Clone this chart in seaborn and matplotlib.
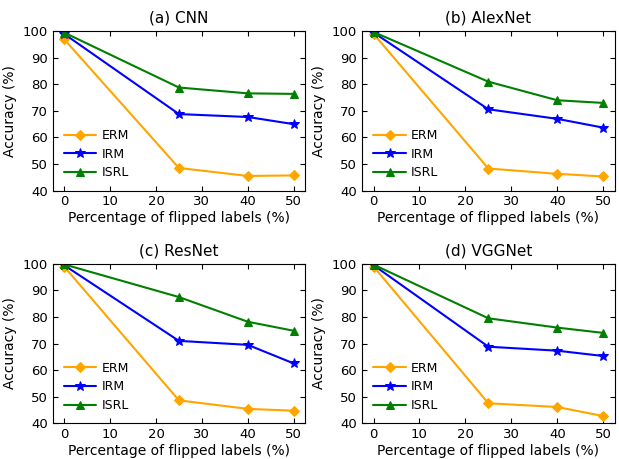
import pandas as pd
import matplotlib
matplotlib.use("Agg")
import matplotlib.pyplot as plt
import seaborn as sns

# --- data ---
flip = [0, 25, 40, 50]
methods = ["ERM", "IRM", "ISRL"]
titles = ["(a) CNN", "(b) AlexNet", "(c) ResNet", "(d) VGGNet"]

cnn_erm = [97.0, 48.5, 45.5, 45.7]
cnn_irm = [99.0, 68.8, 67.7, 65.0]
cnn_isrl = [99.5, 78.8, 76.6, 76.4]

alex_erm = [99.0, 48.3, 46.3, 45.3]
alex_irm = [99.5, 70.6, 67.0, 63.7]
alex_isrl = [99.7, 81.0, 74.0, 73.0]

res_erm = [99.0, 48.6, 45.4, 44.7]
res_irm = [99.5, 71.0, 69.5, 62.5]
res_isrl = [99.8, 87.5, 78.2, 74.8]

vgg_erm = [99.0, 47.5, 46.1, 42.7]
vgg_irm = [99.5, 68.8, 67.3, 65.3]
vgg_isrl = [99.7, 79.5, 76.0, 74.0]

panels = [
    (cnn_erm, cnn_irm, cnn_isrl),
    (alex_erm, alex_irm, alex_isrl),
    (res_erm, res_irm, res_isrl),
    (vgg_erm, vgg_irm, vgg_isrl),
]

colors = {"ERM": "orange", "IRM": "blue", "ISRL": "green"}
markers = {"ERM": "D", "IRM": "*", "ISRL": "^"}
sizes = {"ERM": 5, "IRM": 7, "ISRL": 6}

sns.set_style("ticks")
plt.rcParams["font.family"] = ["DejaVu Sans"]
plt.rcParams.update({"text.color": "black", "axes.labelcolor": "black",
                     "xtick.color": "black", "ytick.color": "black",
                     "axes.edgecolor": "black"})

fig, axes = plt.subplots(2, 2, figsize=(6.19, 4.59), dpi=100)

for ax, title, vals in zip(axes.flat, titles, panels):
    df = pd.DataFrame({"flip": flip * 3,
                       "acc": vals[0] + vals[1] + vals[2],
                       "method": [m for m in methods for _ in flip]})
    for m in methods:
        sub = df[df["method"] == m]
        sns.lineplot(data=sub, x="flip", y="acc", ax=ax, color=colors[m],
                     marker=markers[m], markersize=sizes[m], markeredgecolor=colors[m],
                     linewidth=1.5, label=m)
    ax.set_title(title, fontsize=11)
    ax.set_xlabel("Percentage of flipped labels (%)", fontsize=10, labelpad=2)
    ax.set_ylabel("Accuracy (%)", fontsize=10, labelpad=4)
    ax.set_ylim(40, 100)
    ax.set_xlim(-2.5, 52.5)
    ax.set_xticks([0, 10, 20, 30, 40, 50])
    ax.set_yticks([40, 50, 60, 70, 80, 90, 100])
    ax.tick_params(direction="in", top=True, right=True, labelsize=9.5)
    for s in ax.spines.values():
        s.set_visible(True)
        s.set_linewidth(0.8)
    ax.legend(loc="lower left", frameon=False, fontsize=9, handlelength=2.6,
              handletextpad=0.4, labelspacing=0.45, bbox_to_anchor=(0.0, 0.0))

fig.subplots_adjust(left=0.085, right=0.993, top=0.932, bottom=0.078,
                    wspace=0.225, hspace=0.46)
plt.savefig("out.png", dpi=100)
